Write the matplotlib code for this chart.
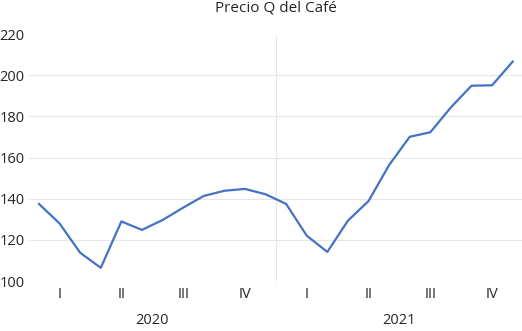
import numpy as np
import matplotlib
matplotlib.use('Agg')
import matplotlib.pyplot as plt
import matplotlib.transforms as mtransforms

plt.rcParams['font.family'] = ['Open Sans', 'DejaVu Sans']

# Datos (precio mensual)
precio_2020 = [137.5, 128.0, 113.8, 106.5, 129.0, 124.9, 129.7, 135.7, 141.4, 143.9, 144.8, 142.2]
precio_2021 = [137.5, 122.1, 114.2, 129.4, 138.9, 156.4, 170.1, 172.3, 184.4, 194.9, 195.1, 206.6]
trimestres = ['I', 'II', 'III', 'IV']
anios = ['2020', '2021']
y_ticks = [100, 120, 140, 160, 180, 200, 220]

precio = precio_2020 + precio_2021
x = np.arange(len(precio))

W, H = 522, 331
fig = plt.figure(figsize=(W / 100, H / 100), dpi=100)
left, right, top, bottom = 28.7, 523, 34, 281.2
ax = fig.add_axes([left / W, (H - bottom) / H, (right - left) / W, (bottom - top) / H])

for v in y_ticks[1:-1]:
    ax.axhline(v, color='#e6e6e6', lw=0.8, zorder=0)
ax.axvline(11.5, ymin=0, ymax=0.99, color='#e6e6e6', lw=0.8, zorder=0)

ax.plot(x, precio, color='#4472C4', lw=1.6, solid_joinstyle='round')

ax.set_xlim(-0.5, len(precio) - 0.5)
ax.set_ylim(100, 220)
ax.set_yticks(y_ticks)
ax.set_xticks([])
ax.tick_params(axis='y', length=0, pad=3, labelsize=10.5, labelcolor='#262626')
for s in ax.spines.values():
    s.set_visible(False)

trans = mtransforms.blended_transform_factory(ax.transData, fig.transFigure)
for a, anio in enumerate(anios):
    for q, t in enumerate(trimestres):
        xc = a * 12 + q * 3 + 1
        ax.text(xc, 1 - 294.5 / H, t, transform=trans, ha='center', va='center',
                fontsize=10.5, color='#262626')
    ax.text(a * 12 + 5.5, 1 - 321 / H, anio, transform=trans, ha='center', va='center',
            fontsize=10.5, color='#262626')

fig.text((left + right) / 2 / W, 1 - 1 / H, 'Precio Q del Café', ha='center', va='top',
         fontsize=11, color='#262626')

fig.savefig('out.png', dpi=100)
